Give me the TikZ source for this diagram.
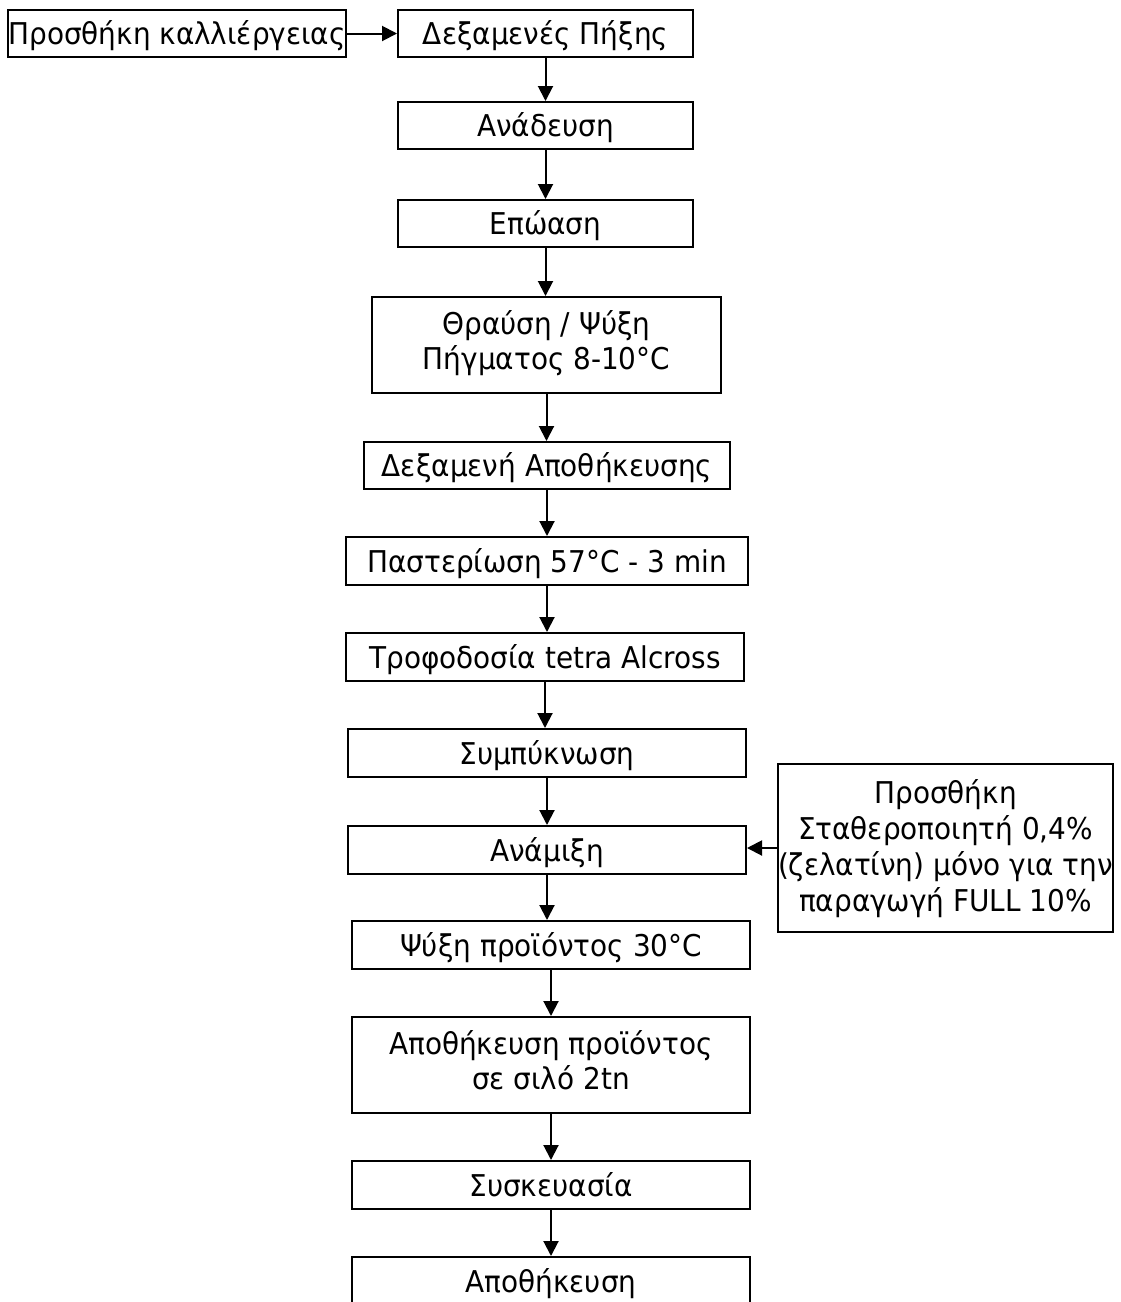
\documentclass[tikz,border=0pt]{standalone}
\usepackage{fontspec}
\setmainfont[FakeStretch=0.93]{DejaVu Sans}
\usetikzlibrary{arrows.meta}
\begin{document}
\begin{tikzpicture}[x=1pt,y=-1pt,
  stepbox/.style={draw, line width=2pt, inner sep=0pt, align=center,
    font=\fontsize{30}{35}\selectfont, text height=22pt, text depth=0pt},
  twoline/.style={font=\fontsize{30}{34.5}\selectfont, text height=56.5pt, text depth=8pt},
  fourline/.style={font=\fontsize{30}{36.3}\selectfont, text height=130.9pt, text depth=3pt},
  flow/.style={line width=2pt, -{Triangle[length=15pt,width=15pt]}}]
\useasboundingbox (0,0) rectangle (1121,1302);
% process steps
\node[stepbox, minimum width=338, minimum height=47] (culture) at (177,33.5) {Προσθήκη καλλιέργειας};
\node[stepbox, minimum width=295, minimum height=47] (tanks) at (545.5,33.5) {Δεξαμενές Πήξης};
\node[stepbox, minimum width=295, minimum height=47] (stir) at (545.5,125.5) {Ανάδευση};
\node[stepbox, minimum width=295, minimum height=47] (incub) at (545.5,223.5) {Επώαση};
\node[stepbox, twoline, minimum width=349, minimum height=96] (break) at (546.5,345) {Θραύση / Ψύξη\\Πήγματος 8-10°C};
\node[stepbox, minimum width=366, minimum height=47] (store) at (547,465.5) {Δεξαμενή Αποθήκευσης};
\node[stepbox, minimum width=402, minimum height=48] (past) at (547,561) {Παστερίωση 57°C - 3 min};
\node[stepbox, minimum width=398, minimum height=48] (feed) at (545,657) {Τροφοδοσία tetra Alcross};
\node[stepbox, minimum width=398, minimum height=48] (conc) at (547,753) {Συμπύκνωση};
\node[stepbox, minimum width=398, minimum height=48] (mix) at (547,850) {Ανάμιξη};
\node[stepbox, fourline, minimum width=335, minimum height=168] (stab) at (945.5,848)
  {Προσθήκη\\Σταθεροποιητή 0,4\%\\(ζελατίνη) μόνο για την\\παραγωγή FULL 10\%};
\node[stepbox, minimum width=398, minimum height=48] (cool) at (551,945) {Ψύξη προϊόντος 30°C};
\node[stepbox, twoline, minimum width=398, minimum height=96] (silo) at (551,1065) {Αποθήκευση προϊόντος\\σε σιλό 2tn};
\node[stepbox, minimum width=398, minimum height=48] (pack) at (551,1185) {Συσκευασία};
\node[stepbox, minimum width=398, minimum height=48] (final) at (551,1281) {Αποθήκευση};
% connectors
\draw[flow] (culture.east) -- (tanks.west);
\foreach \a/\b in {tanks/stir, stir/incub, incub/break, break/store, store/past,
  past/feed, feed/conc, conc/mix, mix/cool, cool/silo, silo/pack, pack/final}
  \draw[flow] (\a.south) -- (\a.south |- \b.north);
\draw[flow] (stab.west) -- (stab.west -| mix.east);
\end{tikzpicture}
\end{document}
